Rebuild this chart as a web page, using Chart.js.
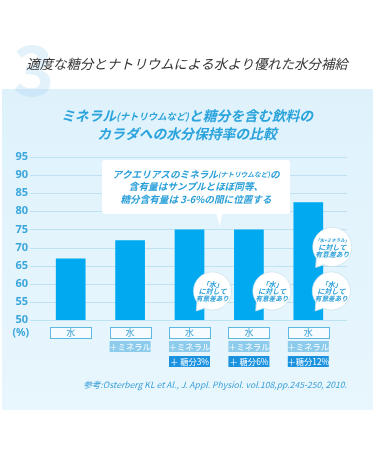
<!DOCTYPE html>
<html><head><meta charset="utf-8">
<script src="https://cdn.jsdelivr.net/npm/chart.js@4/dist/chart.umd.min.js"></script>
<style>html,body{margin:0;padding:0;background:#fff}#wrap{width:375px;height:450px}</style>
</head><body><div id="wrap"><canvas id="c" width="375" height="450"></canvas></div>
<script>
// ---- data ----
const categories = ['水', '水+ミネラル', '水+ミネラル+糖分3%', '水+ミネラル+糖分6%', '水+ミネラル+糖分12%'];
const retention = [67, 72, 75, 75, 82.5];
const row1Labels = ['水', '水', '水', '水', '水'];
const row2Labels = ['', '＋ミネラル', '＋ミネラル', '＋ミネラル', '＋ミネラル'];
const row3Labels = ['', '', '＋ 糖分3%', '＋ 糖分6%', '＋糖分12%'];
const yMin = 50, yMax = 95, yStep = 5;
const lowerNotes = ['', '', '「水」', '「水」', '「水」'];
const upperNotes = ['', '', '', '', '「水+ミネラル」'];
const headerText = '適度な糖分とナトリウムによる水より優れた水分補給';
const calloutLines = [
  [['アクエリアスのミネラル', 1], ['(ナトリウムなど)', 0.7], ['の', 1]],
  [['含有量はサンプルとほぼ同等、', 1]],
  [['糖分含有量は 3-6%の間に位置する', 1]]
];
const citation = '参考:Osterberg KL et Al., J. Appl. Physiol. vol.108,pp.245-250, 2010.';

const FF = "'Noto Sans CJK JP','Noto Sans',sans-serif";
const BLUE = '#2a9fd8';

function segText(ctx, segs, cx, y, size, weight, style, color, maxW) {
  let total = 0;
  segs.forEach(s => { ctx.font = `${style} ${weight} ${size * s[1]}px ${FF}`; total += ctx.measureText(s[0]).width; });
  if (maxW && total > maxW) { size = size * maxW / total; total = maxW; }
  let x = cx - total / 2;
  ctx.textAlign = 'left'; ctx.textBaseline = 'middle'; ctx.fillStyle = color;
  segs.forEach(s => { ctx.font = `${style} ${weight} ${size * s[1]}px ${FF}`; ctx.fillText(s[0], x, y); x += ctx.measureText(s[0]).width; });
}

function bubble(ctx, cx, cy, r, lines) {
  ctx.save();
  ctx.beginPath();
  ctx.arc(cx, cy, r, 0, Math.PI * 2);
  ctx.fillStyle = '#fff'; ctx.fill();
  ctx.strokeStyle = '#c9dfea'; ctx.lineWidth = 0.8; ctx.stroke();
  const a1 = 115 * Math.PI / 180, a2 = 145 * Math.PI / 180;
  ctx.beginPath();
  ctx.moveTo(cx + Math.cos(a1) * r, cy + Math.sin(a1) * r);
  ctx.lineTo(cx - r * 0.85, cy + r * 1.05);
  ctx.lineTo(cx + Math.cos(a2) * r, cy + Math.sin(a2) * r);
  ctx.fillStyle = '#fff'; ctx.fill();
  ctx.stroke();
  ctx.beginPath();
  ctx.arc(cx, cy, r - 0.5, 0, Math.PI * 2);
  ctx.fillStyle = '#fff'; ctx.fill();
  lines.forEach((t, i) => {
    segText(ctx, [[t, 1]], cx, cy - 7 + i * 7, 7, 'bold', 'italic', BLUE, 2 * r - 5);
  });
  ctx.restore();
}

const deco = {
  id: 'deco',
  beforeDraw(chart) {
    const ctx = chart.ctx;
    const ys = chart.scales.y;
    ctx.save();
    ctx.fillStyle = '#fff'; ctx.fillRect(0, 0, 375, 450);
    const g = ctx.createLinearGradient(0, 89, 0, 410);
    g.addColorStop(0, '#dff2fc'); g.addColorStop(1, '#e8f6fd');
    ctx.fillStyle = g; ctx.fillRect(2, 89, 371, 321);
    ctx.font = `bold 70px ${FF}`;
    ctx.fillStyle = 'rgba(150,205,236,0.28)';
    ctx.textAlign = 'left'; ctx.textBaseline = 'alphabetic';
    ctx.fillText('3', 13, 96);
    segText(ctx, [[headerText, 1]], 187, 64, 13.4, 'normal', 'italic', '#333');
    segText(ctx, [['ミネラル', 1], ['(ナトリウムなど)', 0.68], ['と糖分を含む飲料の', 1]], 187, 116, 13.8, 'bold', 'italic', '#2aa3dc');
    segText(ctx, [['カラダへの水分保持率の比較', 1]], 187, 134, 13.8, 'bold', 'italic', '#2aa3dc');
    ctx.strokeStyle = '#bfe2f3'; ctx.lineWidth = 1;
    for (let v = yMin; v <= yMax; v += yStep) {
      const y = Math.round(ys.getPixelForValue(v)) + 0.5;
      ctx.beginPath(); ctx.moveTo(30, y); ctx.lineTo(347, y); ctx.stroke();
    }
    ctx.restore();
  },
  afterDatasetsDraw(chart) {
    const ctx = chart.ctx;
    const xs = chart.scales.x, ys = chart.scales.y;
    const base = ys.getPixelForValue(yMin);
    ctx.save();
    const cx2 = xs.getPixelForValue(2);
    ctx.fillStyle = '#fff';
    ctx.beginPath();
    const bx = 102, by = 160, bw = 188, bh = 54, rr = 3;
    ctx.moveTo(bx + rr, by); ctx.lineTo(bx + bw - rr, by); ctx.quadraticCurveTo(bx + bw, by, bx + bw, by + rr);
    ctx.lineTo(bx + bw, by + bh - rr); ctx.quadraticCurveTo(bx + bw, by + bh, bx + bw - rr, by + bh);
    ctx.lineTo(cx2 + 33, by + bh); ctx.lineTo(cx2 + 30, by + bh + 12); ctx.lineTo(cx2 + 27, by + bh);
    ctx.lineTo(bx + rr, by + bh); ctx.quadraticCurveTo(bx, by + bh, bx, by + bh - rr);
    ctx.lineTo(bx, by + rr); ctx.quadraticCurveTo(bx, by, bx + rr, by);
    ctx.fill();
    calloutLines.forEach((segs, i) => segText(ctx, segs, 196, 174 + i * 12.5, 9.6, 'bold', 'italic', BLUE));
    categories.forEach((c, i) => {
      const cx = xs.getPixelForValue(i);
      if (lowerNotes[i]) bubble(ctx, cx + 23, base - 29, 19, [lowerNotes[i], 'に対して', '有意差あり']);
      if (upperNotes[i]) bubble(ctx, cx + 24, base - 73, 19.5, [upperNotes[i], 'に対して', '有意差あり']);
    });
    categories.forEach((c, i) => {
      const cx = xs.getPixelForValue(i);
      const w = 41, h = 11;
      ctx.fillStyle = '#f5fbfe'; ctx.fillRect(cx - w / 2, base + 7, w, h);
      ctx.strokeStyle = '#5db9e2'; ctx.lineWidth = 1;
      ctx.strokeRect(Math.round(cx - w / 2) + 0.5, base + 7.5, w, h);
      segText(ctx, [[row1Labels[i], 1]], cx, base + 13, 9, 'normal', 'normal', '#3b9fd5');
      if (row2Labels[i]) {
        ctx.fillStyle = '#8ccbec'; ctx.fillRect(cx - w / 2, base + 21, w, h);
        segText(ctx, [[row2Labels[i], 1]], cx, base + 26.5, 8.3, 'normal', 'normal', '#fff');
      }
      if (row3Labels[i]) {
        ctx.fillStyle = '#1a92e0'; ctx.fillRect(cx - w / 2, base + 36, w, h);
        segText(ctx, [[row3Labels[i], 1]], cx, base + 41.5, 8.3, 'normal', 'normal', '#fff');
      }
    });
    ctx.font = `bold 10.5px 'Noto Sans',sans-serif`; ctx.fillStyle = '#3aa6dc';
    ctx.textAlign = 'right'; ctx.textBaseline = 'middle';
    ctx.fillText('(%)', 29, base + 13);
    ctx.font = `italic 8.6px ${FF}`; ctx.fillStyle = '#3a9fd8';
    ctx.textAlign = 'right';
    ctx.fillText(citation, 347, 385);
    ctx.restore();
  }
};

new Chart(document.getElementById('c'), {
  type: 'bar',
  data: { labels: categories, datasets: [{ data: retention, backgroundColor: '#00a9f0', borderWidth: 0, barPercentage: 0.5, categoryPercentage: 1 }] },
  options: {
    responsive: false, animation: false, devicePixelRatio: 1,
    layout: { padding: { left: 14, right: 37, top: 157, bottom: 130 } },
    plugins: { legend: { display: false }, tooltip: { enabled: false }, title: { display: false } },
    scales: {
      x: { display: false },
      y: {
        min: yMin, max: yMax,
        afterFit: s => { s.width = 27; },
        ticks: { stepSize: yStep, padding: 13, color: '#3aa6dc', font: { family: "'Noto Sans',sans-serif", size: 11, weight: 'bold' } },
        grid: { display: false, drawTicks: false },
        border: { display: false }
      }
    }
  },
  plugins: [deco]
});
</script></body></html>
